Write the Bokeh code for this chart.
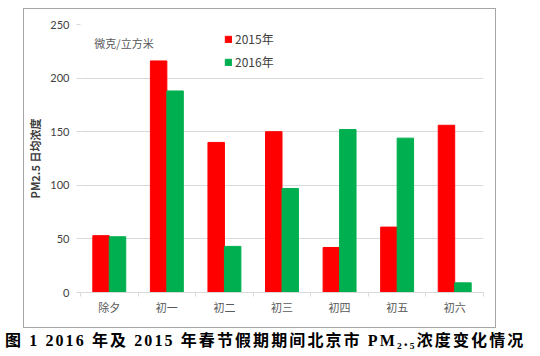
from bokeh.plotting import figure
from bokeh.models import (ColumnDataSource, FixedTicker, Legend, LegendItem,
                          Label, Range1d, Div)
from bokeh.layouts import column
from bokeh.embed import file_html
from bokeh.resources import INLINE

categories = ["除夕", "初一", "初二", "初三", "初四", "初五", "初六"]
pm2015 = [53, 216, 140, 150, 42, 61, 156]
pm2016 = [52, 188, 43, 97, 152, 144, 9]
y_ticks = [0, 50, 100, 150, 200, 250]

centers = [i + 0.5 for i in range(len(categories))]
src = ColumnDataSource(dict(
    x15=[c - 0.143 for c in centers],
    x16=[c + 0.143 for c in centers],
    y15=pm2015, y16=pm2016))

p = figure(width=471, height=318, output_backend="svg", toolbar_location=None,
           x_range=Range1d(0, len(categories)), y_range=Range1d(0, 250))
p.min_border_left = 54
p.min_border_right = 12
p.min_border_top = 15
p.min_border_bottom = 35
p.outline_line_color = None
p.background_fill_color = "white"
p.border_fill_color = "white"

r15 = p.vbar(x="x15", top="y15", width=0.286, source=src, color="#FF0000")
r16 = p.vbar(x="x16", top="y16", width=0.286, source=src, color="#00B050")

CJK = "Noto Sans CJK SC"

# y axis
p.yaxis.ticker = FixedTicker(ticks=y_ticks)
p.yaxis.axis_line_color = None
p.yaxis.major_tick_line_color = "#d9d9d9"
p.yaxis.major_tick_out = 4
p.yaxis.major_tick_in = 0
p.yaxis.minor_tick_line_color = None
p.yaxis.major_label_text_font = "Lato"
p.yaxis.major_label_text_font_size = "11px"
p.yaxis.major_label_text_color = "#404040"
p.yaxis.major_label_standoff = 7
p.yaxis.axis_label = "PM2.5 日均浓度"
p.yaxis.axis_label_text_font = CJK
p.yaxis.axis_label_text_font_style = "bold"
p.yaxis.axis_label_text_font_size = "11px"
p.yaxis.axis_label_text_color = "#404040"
p.yaxis.axis_label_standoff = 4

# x axis
p.xaxis.ticker = FixedTicker(ticks=centers, minor_ticks=list(range(len(categories) + 1)))
p.xaxis.major_label_overrides = {c: lab for c, lab in zip(centers, categories)}
p.xaxis.major_tick_line_color = None
p.xaxis.minor_tick_line_color = "#d9d9d9"
p.xaxis.minor_tick_out = 4
p.xaxis.minor_tick_in = 0
p.xaxis.axis_line_color = "#d9d9d9"
p.xaxis.major_label_text_font = CJK
p.xaxis.major_label_text_font_size = "11px"
p.xaxis.major_label_text_color = "#595959"
p.xaxis.major_label_standoff = 0

p.xgrid.grid_line_color = None
p.ygrid.grid_line_color = "#d9d9d9"
p.ygrid.ticker = FixedTicker(ticks=y_ticks)

legend = Legend(items=[LegendItem(label="2015年", renderers=[r15]),
                       LegendItem(label="2016年", renderers=[r16])],
                location=(144, 222), orientation="vertical")
legend.border_line_color = None
legend.background_fill_alpha = 0
legend.label_text_font = CJK
legend.label_text_font_size = "12px"
legend.label_text_color = "#404040"
legend.glyph_width = 8
legend.glyph_height = 8
legend.label_standoff = 3
legend.spacing = 6
legend.padding = 0
legend.margin = 0
p.add_layout(legend, "center")

unit = Label(x=0.24, y=233, text="微克/立方米", text_font=CJK,
             text_font_size="11px", text_color="#595959", text_baseline="middle")
p.add_layout(unit)

chart_box = column(p, spacing=0, margin=(8, 0, 0, 23),
                   styles={"border": "1px solid #a6a6a6"})

caption = Div(text="图 1 2016 年及 2015 年春节假期期间北京市 PM₂.₅浓度变化情况",
              width=535, height=28, margin=(0, 0, 0, 5),
              styles={"font-family": "'Liberation Serif', 'Noto Sans CJK SC'",
                      "font-weight": "bold", "font-size": "16px",
                      "letter-spacing": "2.1px", "line-height": "26px",
                      "white-space": "nowrap", "color": "black"})

layout = column(chart_box, caption, spacing=0, margin=0)
open("out.html", "w").write(file_html(layout, INLINE))
